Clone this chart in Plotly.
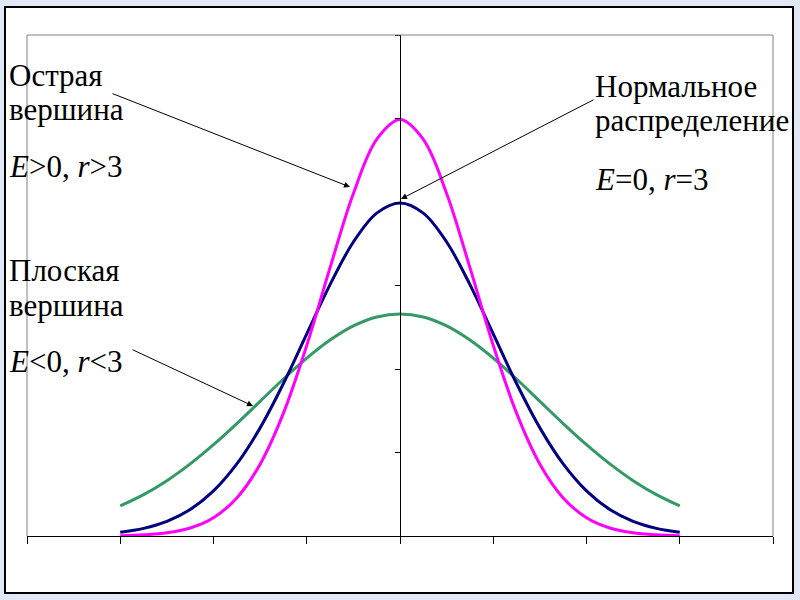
import plotly.graph_objects as go

# Data
x_vals = [-3.0, -2.75, -2.5, -2.25, -2.0, -1.75, -1.5, -1.25, -1.0, -0.75, -0.5, -0.25,
          0.0, 0.25, 0.5, 0.75, 1.0, 1.25, 1.5, 1.75, 2.0, 2.25, 2.5, 2.75, 3.0]
peaked = [0.0004, 0.0014, 0.0038, 0.0096, 0.0219, 0.0456, 0.0860, 0.1471, 0.2283, 0.3214, 0.4102, 0.4749,
          0.4987, 0.4749, 0.4102, 0.3214, 0.2283, 0.1471, 0.0860, 0.0456, 0.0219, 0.0096, 0.0038, 0.0014, 0.0004]
normal = [0.0044, 0.0091, 0.0175, 0.0317, 0.0540, 0.0863, 0.1295, 0.1826, 0.2420, 0.3011, 0.3521, 0.3867,
          0.3989, 0.3867, 0.3521, 0.3011, 0.2420, 0.1826, 0.1295, 0.0863, 0.0540, 0.0317, 0.0175, 0.0091, 0.0044]
flat = [0.0360, 0.0495, 0.0663, 0.0864, 0.1094, 0.1347, 0.1613, 0.1880, 0.2130, 0.2347, 0.2516, 0.2623,
        0.2660, 0.2623, 0.2516, 0.2347, 0.2130, 0.1880, 0.1613, 0.1347, 0.1094, 0.0864, 0.0663, 0.0495, 0.0360]
x_ticks = [-4, -3, -2, -1, 0, 1, 2, 3, 4]

W, H = 800, 600
L, R, T, B = 27, 773, 35, 536


def px(x):
    return (x - L) / (R - L)


def py(y):
    return (B - y) / (B - T)


fig = go.Figure()
fig.add_trace(go.Scatter(x=x_vals, y=flat, mode="lines", line=dict(color="#339966", width=3, shape="spline"),
                         showlegend=False))
fig.add_trace(go.Scatter(x=x_vals, y=normal, mode="lines", line=dict(color="#000080", width=3, shape="spline"),
                         showlegend=False))
fig.add_trace(go.Scatter(x=x_vals, y=peaked, mode="lines", line=dict(color="#FF00FF", width=3, shape="spline"),
                         showlegend=False))

shapes = [
    dict(type="rect", xref="paper", yref="paper", x0=px(5), x1=px(793), y0=py(593), y1=py(7),
         line=dict(color="black", width=2), fillcolor="white", layer="below"),
    dict(type="line", xref="paper", yref="paper", x0=0, x1=0, y0=0, y1=1, line=dict(color="#808080", width=1)),
    dict(type="line", xref="paper", yref="paper", x0=1, x1=1, y0=0, y1=1, line=dict(color="#808080", width=1)),
    dict(type="line", xref="paper", yref="paper", x0=0, x1=1, y0=1, y1=1, line=dict(color="#808080", width=1)),
]

font = dict(family="Liberation Serif", size=31, color="black")
texts = [
    ("Острая", 7, 75),
    ("вершина", 7, 110),
    ("<i>E</i>&gt;0, <i>r</i>&gt;3", 7, 166),
    ("Плоская", 7, 270),
    ("вершина", 7, 305),
    ("<i>E</i>&lt;0, <i>r</i>&lt;3", 7, 361),
    ("Нормальное", 593, 86),
    ("распределение", 593, 121),
    ("<i>E</i>=0, <i>r</i>=3", 593, 179),
]
annotations = []
for t, x, y in texts:
    annotations.append(dict(text=t, xref="paper", yref="paper", x=px(x), y=py(y), xanchor="left",
                            yanchor="middle", showarrow=False, font=font))

arrows = [((350, 187), (111, 93)), ((401, 199), (595, 99)), ((253, 406), (131, 349))]
for (hx, hy), (tx, ty) in arrows:
    annotations.append(dict(text="", xref="paper", yref="paper", x=px(hx), y=py(hy),
                            ax=tx - hx, ay=ty - hy, showarrow=True, arrowhead=2, arrowsize=1.2,
                            arrowwidth=1, arrowcolor="black", standoff=0))

fig.update_layout(
    width=W, height=H,
    margin=dict(l=L, r=W - R, t=T, b=H - B),
    paper_bgcolor="#dfe8f4",
    plot_bgcolor="white",
    shapes=shapes,
    annotations=annotations,
    xaxis=dict(range=[-4, 4], tickvals=x_ticks, showticklabels=False, ticks="outside", ticklen=7,
               tickcolor="black", showline=True, linecolor="black", linewidth=1, showgrid=False,
               zeroline=False),
    yaxis=dict(range=[0, 0.6], dtick=0.1, tick0=0, showticklabels=False, ticks="outside", ticklen=5,
               tickcolor="black", showline=True, linecolor="black", linewidth=1, showgrid=False,
               zeroline=False, anchor="free", position=0.5),
)

fig.write_html("out.html", config={"displayModeBar": False},
               post_script="document.body.style.margin='0';document.body.style.padding='0';")
